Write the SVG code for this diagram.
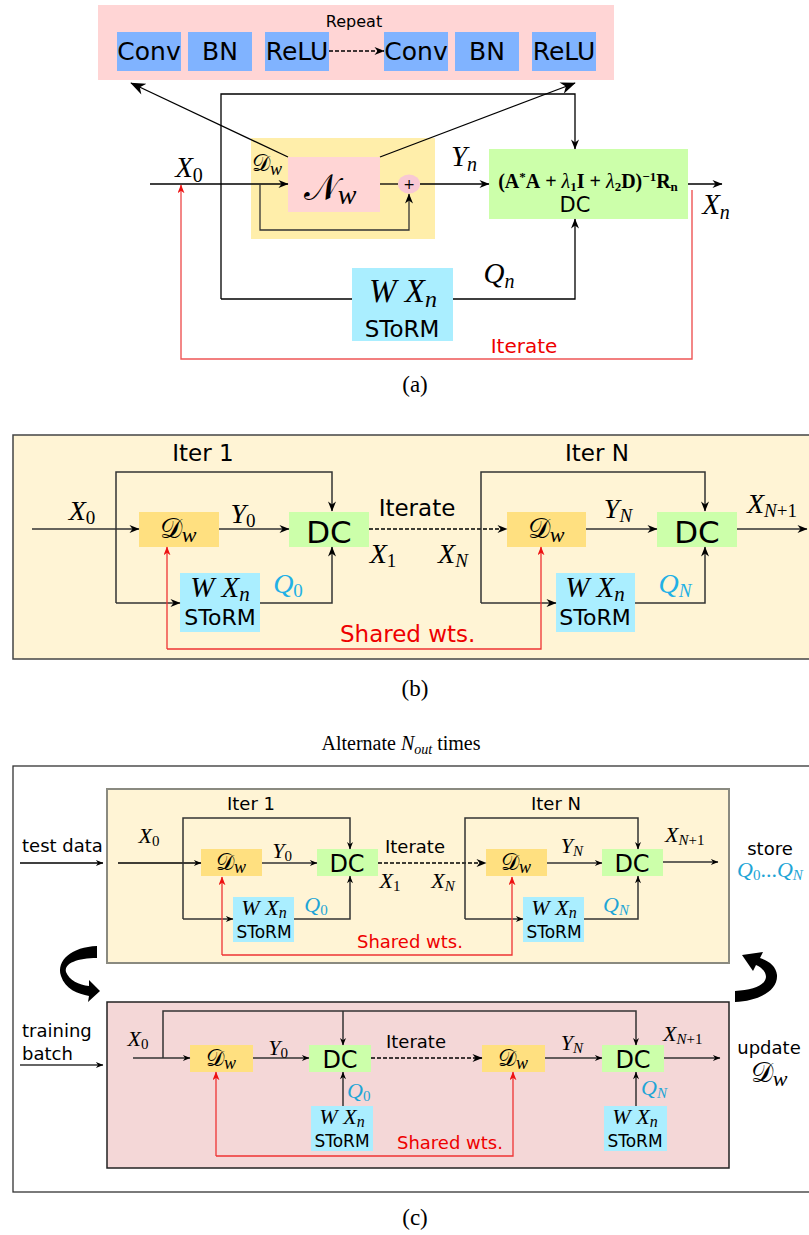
<svg xmlns="http://www.w3.org/2000/svg" width="809" height="1235" viewBox="0 0 809 1235">
<defs>
<style>
.s{font-family:"DejaVu Sans",sans-serif}
.m{font-family:"Liberation Serif","DejaVu Serif",serif;font-style:italic}
.r{font-style:normal}
.cal{font-family:"DejaVu Serif","DejaVu Sans","Noto Sans",serif;font-style:normal}
.ln{stroke:#000;stroke-width:1.3;fill:none}
.lg{stroke:#333;stroke-width:1.5;fill:none}
.lr{stroke:#e33;stroke-width:1.3;fill:none}
.dash{stroke:#000;stroke-width:1.3;fill:none;stroke-dasharray:4 2}
.blue{fill:#80b3ff}
.pink{fill:#ffd5d5}
.green{fill:#ccffaa}
.cyan{fill:#aaeeff}
.yel{fill:#ffe080}
.qc{fill:#22b0e6}
.red{fill:#e00}
</style>
<marker id="ah" viewBox="0 0 10 8" refX="9.5" refY="4" markerWidth="11" markerHeight="8" markerUnits="userSpaceOnUse" orient="auto"><path d="M0,0 L10,4 L0,8 L3,4z" fill="#000"/></marker>
<marker id="ahL" viewBox="0 0 10 8" refX="9.5" refY="4" markerWidth="16" markerHeight="12" markerUnits="userSpaceOnUse" orient="auto"><path d="M0,0 L10,4 L0,8 L3,4z" fill="#000"/></marker>
<marker id="ahS" viewBox="0 0 10 8" refX="9.5" refY="4" markerWidth="9" markerHeight="6" markerUnits="userSpaceOnUse" orient="auto"><path d="M0,0 L10,4 L0,8 L3,4z" fill="#000"/></marker>
<marker id="ahR" viewBox="0 0 10 8" refX="9.5" refY="4" markerWidth="9" markerHeight="7" markerUnits="userSpaceOnUse" orient="auto"><path d="M0,0 L10,4 L0,8 L3,4z" fill="#e11"/></marker>
</defs>
<rect width="809" height="1235" fill="#fff"/>

<!-- ===== (a) ===== -->
<g id="a-repeat">
<rect x="98" y="5" width="516" height="75" class="pink"/>
<text x="354" y="27" class="s" font-size="16" text-anchor="middle">Repeat</text>
<rect x="117" y="32" width="64" height="39" class="blue"/>
<rect x="188" y="32" width="64" height="39" class="blue"/>
<rect x="265" y="32" width="64" height="39" class="blue"/>
<rect x="384" y="32" width="64" height="39" class="blue"/>
<rect x="455" y="32" width="64" height="39" class="blue"/>
<rect x="532" y="32" width="64" height="39" class="blue"/>
<g class="s" font-size="25" text-anchor="middle">
<text x="149" y="60">Conv</text><text x="220" y="60">BN</text><text x="297" y="60">ReLU</text>
<text x="416" y="60">Conv</text><text x="487" y="60">BN</text><text x="564" y="60">ReLU</text>
</g>
</g>
<g id="a-dw">
<rect x="251" y="138" width="184" height="101" fill="#ffeeaa"/>
<text x="252" y="171" class="cal" font-size="23">𝒟<tspan class="m" font-size="18" dy="4">w</tspan></text>
</g>
<g id="a-nw">
<rect x="288" y="157" width="92" height="55" class="pink"/>
<text x="330" y="200" class="cal" font-size="36" text-anchor="middle">𝒩<tspan class="m" font-size="28" dy="4">w</tspan></text>
</g>
<g id="a-plus">
<ellipse cx="409" cy="184" rx="11" ry="9.5" fill="#f8c8d4"/>
<text x="409" y="189" class="s" font-size="14" text-anchor="middle">+</text>
</g>
<g id="a-dc">
<rect x="489" y="149" width="199" height="70" class="green"/>
<text x="588" y="188" font-family="Liberation Serif,serif" font-weight="bold" font-size="20" text-anchor="middle">(A<tspan dy="-7" font-size="13">*</tspan><tspan dy="7">A&#160;+&#160;</tspan><tspan font-style="italic" font-weight="normal">λ</tspan><tspan dy="3" font-size="13">1</tspan><tspan dy="-3">I&#160;+&#160;</tspan><tspan font-style="italic" font-weight="normal">λ</tspan><tspan dy="3" font-size="13">2</tspan><tspan dy="-3">D)</tspan><tspan dy="-7" font-size="13">−1</tspan><tspan dy="7">R</tspan><tspan dy="3" font-size="13">n</tspan></text>
<text x="575" y="212" class="s" font-size="21" text-anchor="middle">DC</text>
</g>
<g id="a-storm">
<rect x="352" y="268" width="101" height="73" class="cyan"/>
<text x="403" y="302" class="m" font-size="33" text-anchor="middle">W X<tspan font-size="24" dy="5">n</tspan></text>
<text x="402" y="337" class="s" font-size="23" text-anchor="middle">SToRM</text>
</g>
<g id="a-connectors">
<line x1="288" y1="157" x2="131" y2="83" class="ln" marker-end="url(#ahL)"/>
<line x1="380" y1="157" x2="575" y2="83" class="ln" marker-end="url(#ahL)"/>
<path d="M221,299 V94 H575 V149" class="ln" marker-end="url(#ah)"/>
<path d="M150,184 H288" class="ln" marker-end="url(#ah)"/>
<path d="M260,184 V230 H409 V194" stroke="#333" stroke-width="1.3" fill="none" marker-end="url(#ah)"/>
<line x1="380" y1="184" x2="398" y2="184" class="ln"/>
<path d="M420,184 H489" class="ln" marker-end="url(#ah)"/>
<path d="M688,184 H722" class="ln" marker-end="url(#ah)"/>
<path d="M221,299 H352" class="ln"/>
<path d="M453,299 H575 V219" class="ln" marker-end="url(#ah)"/>
<path d="M329,51 H384" class="dash" marker-end="url(#ah)"/>
<path d="M692,190 V359 H181 V185" stroke="#e55" stroke-width="1.4" fill="none" marker-end="url(#ahR)"/>
</g>
<g id="a-labels">
<text x="189" y="177" class="m" font-size="29" text-anchor="middle">X<tspan class="r" font-size="20" dy="5">0</tspan></text>
<text x="464" y="166" class="m" font-size="29" text-anchor="middle">Y<tspan font-size="20" dy="5">n</tspan></text>
<text x="716" y="214" class="m" font-size="29" text-anchor="middle">X<tspan font-size="20" dy="5">n</tspan></text>
<text x="499" y="283" class="m" font-size="29" text-anchor="middle">Q<tspan font-size="20" dy="5">n</tspan></text>
<text x="524" y="353" class="s red" font-size="20" text-anchor="middle">Iterate</text>
<text x="415" y="392" font-family="Liberation Serif,serif" font-size="23" text-anchor="middle">(a)</text>
</g>

<!-- ===== (b) ===== -->
<g id="b-frame">
<rect x="13" y="435" width="810" height="224" fill="#fff4d5" stroke="#444" stroke-width="1.5"/>
</g>
<g id="b-dw1"><rect x="139" y="512" width="80" height="35" class="yel"/>
<text x="178" y="538" class="cal" font-size="28" text-anchor="middle">𝒟<tspan class="m" font-size="22" dy="4">w</tspan></text></g>
<g id="b-dc1"><rect x="289" y="512" width="80" height="35" class="green"/>
<text x="329" y="543" class="s" font-size="31" text-anchor="middle">DC</text></g>
<g id="b-storm1"><rect x="180" y="573" width="80" height="59" class="cyan"/>
<text x="220" y="597" class="m" font-size="29" text-anchor="middle">W X<tspan font-size="21" dy="4">n</tspan></text>
<text x="220" y="625" class="s" font-size="22" text-anchor="middle">SToRM</text></g>
<g id="b-dw2"><rect x="507" y="512" width="79" height="35" class="yel"/>
<text x="546" y="538" class="cal" font-size="28" text-anchor="middle">𝒟<tspan class="m" font-size="22" dy="4">w</tspan></text></g>
<g id="b-dc2"><rect x="657" y="512" width="80" height="35" class="green"/>
<text x="697" y="543" class="s" font-size="31" text-anchor="middle">DC</text></g>
<g id="b-storm2"><rect x="556" y="573" width="79" height="59" class="cyan"/>
<text x="595" y="597" class="m" font-size="29" text-anchor="middle">W X<tspan font-size="21" dy="4">n</tspan></text>
<text x="595" y="625" class="s" font-size="22" text-anchor="middle">SToRM</text></g>
<g id="b-connectors">
<path d="M32,529 H139" class="lg" marker-end="url(#ah)"/>
<path d="M116,603 V472 H332 V511" class="lg" marker-end="url(#ah)"/>
<path d="M116,603 H180" class="lg" marker-end="url(#ah)"/>
<path d="M260,603 H332 V547" class="lg" marker-end="url(#ah)"/>
<path d="M219,529 H289" class="lg" marker-end="url(#ah)"/>
<path d="M369,529 H507" class="dash" marker-end="url(#ah)"/>
<path d="M481,603 V472 H705 V511" class="lg" marker-end="url(#ah)"/>
<path d="M481,603 H556" class="lg" marker-end="url(#ah)"/>
<path d="M635,603 H705 V547" class="lg" marker-end="url(#ah)"/>
<path d="M586,529 H657" class="lg" marker-end="url(#ah)"/>
<path d="M737,529 H807" class="lg" marker-end="url(#ah)"/>
<path d="M167,649 V547" class="lr" marker-end="url(#ahR)"/>
<path d="M167,649 H541 V547" class="lr" marker-end="url(#ahR)"/>
</g>
<g id="b-labels">
<text x="203" y="461" class="s" font-size="23" text-anchor="middle">Iter 1</text>
<text x="597" y="461" class="s" font-size="23" text-anchor="middle">Iter N</text>
<text x="417" y="516" class="s" font-size="23" text-anchor="middle">Iterate</text>
<text x="82" y="520" class="m" font-size="28" text-anchor="middle">X<tspan class="r" font-size="19" dy="4">0</tspan></text>
<text x="243" y="523" class="m" font-size="28" text-anchor="middle">Y<tspan class="r" font-size="19" dy="4">0</tspan></text>
<text x="383" y="563" class="m" font-size="28" text-anchor="middle">X<tspan class="r" font-size="19" dy="4">1</tspan></text>
<text x="453" y="563" class="m" font-size="28" text-anchor="middle">X<tspan font-size="19" dy="4">N</tspan></text>
<text x="618" y="518" class="m" font-size="28" text-anchor="middle">Y<tspan font-size="19" dy="4">N</tspan></text>
<text x="747" y="513" class="m" font-size="28">X<tspan font-size="19" dy="4">N<tspan class="r">+1</tspan></tspan></text>
<text x="288" y="593" class="m qc" font-size="28" text-anchor="middle">Q<tspan class="r" font-size="19" dy="4">0</tspan></text>
<text x="675" y="593" class="m qc" font-size="28" text-anchor="middle">Q<tspan font-size="19" dy="4">N</tspan></text>
<text x="340" y="642" class="s red" font-size="23">Shared wts.</text>
<text x="415" y="696" font-family="Liberation Serif,serif" font-size="23" text-anchor="middle">(b)</text>
</g>

<!-- ===== (c) ===== -->
<text x="401" y="750" font-family="Liberation Serif,serif" font-size="20" text-anchor="middle">Alternate <tspan font-style="italic">N<tspan font-size="14" dy="4">out</tspan></tspan><tspan dy="-4"> times</tspan></text>
<rect x="13" y="766" width="810" height="426" fill="none" stroke="#333" stroke-width="1.3"/>
<g id="c-test-frame"><rect x="107" y="789" width="622" height="174" fill="#fff4d5" stroke="#8a8a80" stroke-width="2"/></g>
<g id="c-train-frame"><rect x="107" y="1002" width="622" height="166" fill="#f4d7d7" stroke="#222" stroke-width="1.5"/></g>

<g id="c-t-dw1"><rect x="201" y="849" width="61" height="27" class="yel"/>
<text x="231" y="870" class="cal" font-size="23" text-anchor="middle">𝒟<tspan class="m" font-size="18" dy="3">w</tspan></text></g>
<g id="c-t-dc1"><rect x="317" y="849" width="61" height="27" class="green"/>
<text x="347" y="872" class="s" font-size="24" text-anchor="middle">DC</text></g>
<g id="c-t-storm1"><rect x="233" y="897" width="61" height="45" class="cyan"/>
<text x="264" y="915" class="m" font-size="22" text-anchor="middle">W X<tspan font-size="16" dy="3">n</tspan></text>
<text x="264" y="938" class="s" font-size="17" text-anchor="middle">SToRM</text></g>
<g id="c-t-dw2"><rect x="486" y="849" width="61" height="27" class="yel"/>
<text x="516" y="870" class="cal" font-size="23" text-anchor="middle">𝒟<tspan class="m" font-size="18" dy="3">w</tspan></text></g>
<g id="c-t-dc2"><rect x="602" y="849" width="61" height="27" class="green"/>
<text x="632" y="872" class="s" font-size="24" text-anchor="middle">DC</text></g>
<g id="c-t-storm2"><rect x="523" y="897" width="61" height="45" class="cyan"/>
<text x="554" y="915" class="m" font-size="22" text-anchor="middle">W X<tspan font-size="16" dy="3">n</tspan></text>
<text x="554" y="938" class="s" font-size="17" text-anchor="middle">SToRM</text></g>

<g id="c-b-dw1"><rect x="190" y="1045" width="63" height="27" class="yel"/>
<text x="221" y="1066" class="cal" font-size="23" text-anchor="middle">𝒟<tspan class="m" font-size="18" dy="3">w</tspan></text></g>
<g id="c-b-dc1"><rect x="309" y="1045" width="62" height="27" class="green"/>
<text x="340" y="1068" class="s" font-size="24" text-anchor="middle">DC</text></g>
<g id="c-b-storm1"><rect x="311" y="1106" width="62" height="45" class="cyan"/>
<text x="342" y="1124" class="m" font-size="22" text-anchor="middle">W X<tspan font-size="16" dy="3">n</tspan></text>
<text x="342" y="1147" class="s" font-size="17" text-anchor="middle">SToRM</text></g>
<g id="c-b-dw2"><rect x="482" y="1045" width="63" height="27" class="yel"/>
<text x="513" y="1066" class="cal" font-size="23" text-anchor="middle">𝒟<tspan class="m" font-size="18" dy="3">w</tspan></text></g>
<g id="c-b-dc2"><rect x="602" y="1045" width="62" height="27" class="green"/>
<text x="633" y="1068" class="s" font-size="24" text-anchor="middle">DC</text></g>
<g id="c-b-storm2"><rect x="604" y="1106" width="63" height="45" class="cyan"/>
<text x="635" y="1124" class="m" font-size="22" text-anchor="middle">W X<tspan font-size="16" dy="3">n</tspan></text>
<text x="635" y="1147" class="s" font-size="17" text-anchor="middle">SToRM</text></g>

<g id="c-connectors">
<path d="M20,863 H103" class="ln" stroke-width="1.1" marker-end="url(#ahS)"/>
<path d="M118,863 H201" class="ln" stroke-width="1.1" marker-end="url(#ahS)"/>
<path d="M183,919 V818 H350 V849" class="lg" stroke-width="1.2" marker-end="url(#ahS)"/>
<path d="M183,919 H233" class="lg" stroke-width="1.2" marker-end="url(#ahS)"/>
<path d="M294,919 H350 V876" class="lg" stroke-width="1.2" marker-end="url(#ahS)"/>
<path d="M262,863 H317" class="lg" stroke-width="1.2" marker-end="url(#ahS)"/>
<path d="M378,863 H486" class="dash" stroke-width="1.2" marker-end="url(#ah)"/>
<path d="M465,919 V818 H638 V849" class="lg" stroke-width="1.2" marker-end="url(#ahS)"/>
<path d="M465,919 H523" class="lg" stroke-width="1.2" marker-end="url(#ahS)"/>
<path d="M584,919 H638 V876" class="lg" stroke-width="1.2" marker-end="url(#ahS)"/>
<path d="M547,863 H602" class="lg" stroke-width="1.2" marker-end="url(#ahS)"/>
<path d="M663,862 H718" class="lg" stroke-width="1.2" marker-end="url(#ahS)"/>
<path d="M222,955 V877" class="lr" stroke-width="1.2" marker-end="url(#ahR)"/>
<path d="M222,955 H512 V877" class="lr" stroke-width="1.2" marker-end="url(#ahR)"/>

<path d="M20,1065 H103" class="lg" stroke-width="1.2" marker-end="url(#ahS)"/>
<path d="M133,1058 H190" class="lg" stroke-width="1.2" marker-end="url(#ahS)"/>
<path d="M163,1058 V1011 H636 V1045" class="lg" stroke-width="1.2" marker-end="url(#ahS)"/>
<path d="M343,1011 V1045" class="lg" stroke-width="1.2" marker-end="url(#ahS)"/>
<path d="M253,1058 H309" class="lg" stroke-width="1.2" marker-end="url(#ahS)"/>
<path d="M343,1106 V1072" class="lg" stroke-width="1.2" marker-end="url(#ahS)"/>
<path d="M371,1058 H482" class="dash" stroke-width="1.2" marker-end="url(#ah)"/>
<path d="M545,1058 H602" class="lg" stroke-width="1.2" marker-end="url(#ahS)"/>
<path d="M636,1106 V1072" class="lg" stroke-width="1.2" marker-end="url(#ahS)"/>
<path d="M664,1058 H720" class="lg" stroke-width="1.2" marker-end="url(#ahS)"/>
<path d="M216,1156 V1072" class="lr" stroke-width="1.2" marker-end="url(#ahR)"/>
<path d="M216,1156 H513 V1072" class="lr" stroke-width="1.2" marker-end="url(#ahR)"/>

<path d="M97,946 C72,947 56,960 61,976 C65,989 78,994 89,996 L88,1002 L100,991 L89,980 L89,986 C79,985 69,980 66,972 C64,963 78,958 97,958 Z" fill="#000"/>
<path d="M735,1002 C758,1001 778,991 777,975 C776,966 769,961 760,958 L763,952 L742,955 L753,971 L756,965 C763,968 766,973 766,977 C765,986 752,990 735,991 Z" fill="#000"/>
</g>

<g id="c-labels">
<text x="22" y="852" class="s" font-size="18">test data</text>
<text x="22" y="1037" class="s" font-size="18">training</text>
<text x="22" y="1060" class="s" font-size="18">batch</text>
<text x="149" y="843" class="m" font-size="22" text-anchor="middle">X<tspan class="r" font-size="15" dy="3">0</tspan></text>
<text x="251" y="810" class="s" font-size="18" text-anchor="middle">Iter 1</text>
<text x="556" y="810" class="s" font-size="18" text-anchor="middle">Iter N</text>
<text x="282" y="858" class="m" font-size="22" text-anchor="middle">Y<tspan class="r" font-size="15" dy="3">0</tspan></text>
<text x="415" y="853" class="s" font-size="18" text-anchor="middle">Iterate</text>
<text x="390" y="888" class="m" font-size="22" text-anchor="middle">X<tspan class="r" font-size="15" dy="3">1</tspan></text>
<text x="443" y="888" class="m" font-size="22" text-anchor="middle">X<tspan font-size="15" dy="3">N</tspan></text>
<text x="572" y="853" class="m" font-size="22" text-anchor="middle">Y<tspan font-size="15" dy="3">N</tspan></text>
<text x="665" y="842" class="m" font-size="22">X<tspan font-size="15" dy="3">N<tspan class="r">+1</tspan></tspan></text>
<text x="316" y="912" class="m" font-size="22" fill="#1ea5d6" text-anchor="middle">Q<tspan class="r" font-size="15" dy="3">0</tspan></text>
<text x="616" y="912" class="m" font-size="22" fill="#1ea5d6" text-anchor="middle">Q<tspan font-size="15" dy="3">N</tspan></text>
<text x="357" y="948" class="s red" font-size="18">Shared wts.</text>
<text x="770" y="855" class="s" font-size="18" text-anchor="middle">store</text>
<text x="737" y="877" class="m" font-size="22" fill="#1ea5d6">Q<tspan class="r" font-size="15" dy="3">0</tspan><tspan class="r" dy="-3">...</tspan>Q<tspan font-size="15" dy="3">N</tspan></text>

<text x="138" y="1046" class="m" font-size="22" text-anchor="middle">X<tspan class="r" font-size="15" dy="3">0</tspan></text>
<text x="278" y="1055" class="m" font-size="22" text-anchor="middle">Y<tspan class="r" font-size="15" dy="3">0</tspan></text>
<text x="347" y="1098" class="m" font-size="22" fill="#1ea5d6">Q<tspan class="r" font-size="15" dy="3">0</tspan></text>
<text x="416" y="1048" class="s" font-size="18" text-anchor="middle">Iterate</text>
<text x="572" y="1050" class="m" font-size="22" text-anchor="middle">Y<tspan font-size="15" dy="3">N</tspan></text>
<text x="663" y="1041" class="m" font-size="22">X<tspan font-size="15" dy="3">N<tspan class="r">+1</tspan></tspan></text>
<text x="641" y="1095" class="m" font-size="22" fill="#1ea5d6">Q<tspan font-size="15" dy="3">N</tspan></text>
<text x="397" y="1149" class="s red" font-size="18">Shared wts.</text>
<text x="769" y="1054" class="s" font-size="18" text-anchor="middle">update</text>
<text x="769" y="1082" class="cal" font-size="28" text-anchor="middle">𝒟<tspan class="m" font-size="22" dy="4">w</tspan></text>
<text x="415" y="1225" font-family="Liberation Serif,serif" font-size="23" text-anchor="middle">(c)</text>
</g>
</svg>
